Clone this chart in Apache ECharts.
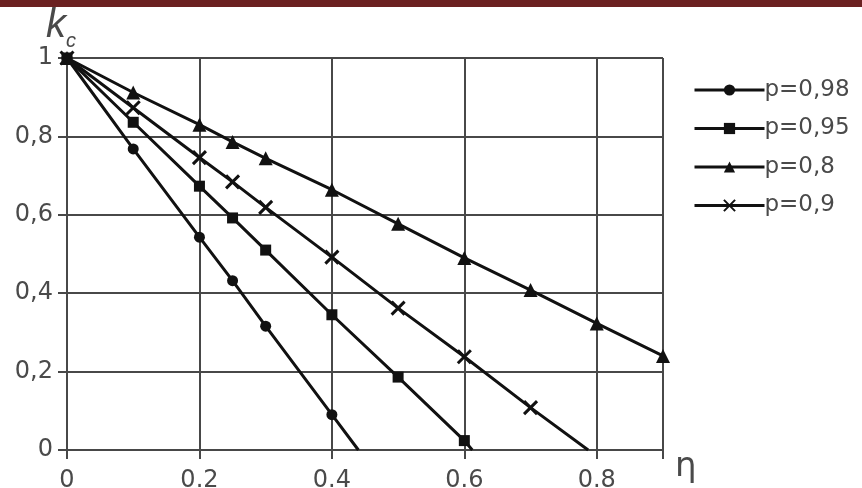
<!DOCTYPE html>
<html>
<head>
<meta charset="utf-8">
<script src="https://cdn.jsdelivr.net/npm/echarts@6/dist/echarts.min.js"></script>
<style>
  html, body { margin: 0; padding: 0; background: #fff; }
  #chart { width: 862px; height: 488px; }
</style>
</head>
<body>
<div id="chart"></div>
<script>
// series names (legend order)
const seriesNames = ['p=0,98', 'p=0,95', 'p=0,8', 'p=0,9'];
const seriesSymbols = ['circle', 'rect', 'triangle', 'path://M0,0L10,10M10,0L0,10'];

// marked points, eta / k_c
const etaP98 = [0, 0.1, 0.2, 0.25, 0.3, 0.4];
const kP98 = [1, 0.768, 0.543, 0.432, 0.316, 0.09];
const etaP95 = [0, 0.1, 0.2, 0.25, 0.3, 0.4, 0.5, 0.6];
const kP95 = [1, 0.836, 0.673, 0.592, 0.51, 0.345, 0.186, 0.024];
const etaP80 = [0, 0.1, 0.2, 0.25, 0.3, 0.4, 0.5, 0.6, 0.7, 0.8, 0.9];
const kP80 = [1, 0.912, 0.83, 0.786, 0.744, 0.664, 0.577, 0.49, 0.408, 0.323, 0.24];
const etaP90 = [0, 0.1, 0.2, 0.25, 0.3, 0.4, 0.5, 0.6, 0.7];
const kP90 = [1, 0.873, 0.746, 0.684, 0.619, 0.492, 0.362, 0.238, 0.108];

// where each line meets k_c = 0 (no marker); null = line stops at last marker
const lineEndEta = [0.44, 0.612, null, 0.787];

// tick labels
const xTickValues = [0, 0.2, 0.4, 0.6, 0.8];
const xTickLabels = ['0', '0.2', '0.4', '0.6', '0.8'];
const yTickValues = [0, 0.2, 0.4, 0.6, 0.8, 1];
const yTickLabels = ['0', '0,2', '0,4', '0,6', '0,8', '1'];

const etaAll = [etaP98, etaP95, etaP80, etaP90];
const kAll = [kP98, kP95, kP80, kP90];

function tickText(v, values, labels) {
  for (let i = 0; i < values.length; i++) {
    if (Math.abs(v - values[i]) < 1e-6) return labels[i];
  }
  return '';
}

const ink = '#111';
const gridColor = '#484848';
const textColor = '#4a4a4a';
const font = 'DejaVu Sans';
const symbolSizes = [11, 11, 14, 13];

const series = seriesNames.map((name, i) => {
  const data = etaAll[i].map((e, j) => [e, kAll[i][j]]);
  if (lineEndEta[i] !== null) {
    data.push({ value: [lineEndEta[i], 0], symbol: 'none' });
  }
  const isCross = i === 3;
  return {
    name: name,
    type: 'line',
    data: data,
    symbol: seriesSymbols[i],
    symbolSize: symbolSizes[i],
    showAllSymbol: true,
    lineStyle: { color: ink, width: 3 },
    itemStyle: isCross
      ? { color: ink, borderColor: ink, borderWidth: 3 }
      : { color: ink, borderWidth: 0 },
    emphasis: { disabled: true },
    z: 3
  };
});

const chart = echarts.init(document.getElementById('chart'));
chart.setOption({
  animation: false,
  backgroundColor: '#fff',
  graphic: [
    { type: 'rect', left: 0, top: 0, z: 100, shape: { width: 862, height: 7 }, style: { fill: '#6b2121' } },
    {
      // y axis title k_c
      type: 'text',
      left: 46,
      top: 6,
      style: {
        text: '{k|k}{c|c}',
        rich: {
          k: { fontSize: 40, fontStyle: 'italic', fontFamily: 'Liberation Sans', fill: textColor },
          c: { fontSize: 20, fontStyle: 'italic', fontFamily: 'Liberation Sans', fill: textColor, verticalAlign: 'bottom', padding: [0, 0, -5, 0] }
        }
      }
    }
  ],
  grid: { left: 67, right: 199, top: 58, bottom: 38, containLabel: false, outerBoundsMode: 'none' },
  legend: {
    orient: 'vertical',
    left: 688,
    top: 73,
    itemWidth: 70,
    itemHeight: 14,
    itemGap: 14.5,
    data: seriesNames,
    lineStyle: { width: 3 },
    textStyle: { color: textColor, fontSize: 23, fontFamily: font, lineHeight: 24, padding: [0, 0, 0, -5] }
  },
  xAxis: {
    type: 'value',
    min: 0,
    max: 0.9,
    interval: 0.2,
    name: 'η',
    nameLocation: 'end',
    nameGap: 12,
    nameTextStyle: { color: textColor, fontSize: 34, fontFamily: font, align: 'left', verticalAlign: 'top', padding: [0, 0, 0, 0] },
    axisLine: { show: true, lineStyle: { color: gridColor, width: 2 } },
    axisTick: { show: true, length: 9, lineStyle: { color: gridColor, width: 2 } },
    axisLabel: {
      margin: 19,
      color: textColor,
      fontSize: 24,
      fontFamily: font,
      showMaxLabel: true,
      formatter: v => tickText(v, xTickValues, xTickLabels)
    },
    splitLine: { show: true, lineStyle: { color: gridColor, width: 2 } }
  },
  yAxis: {
    type: 'value',
    min: 0,
    max: 1,
    interval: 0.2,
    axisLine: { show: true, lineStyle: { color: gridColor, width: 2 } },
    axisTick: { show: true, length: 9, lineStyle: { color: gridColor, width: 2 } },
    axisLabel: {
      margin: 14,
      color: textColor,
      fontSize: 24,
      fontFamily: font,
      formatter: v => tickText(v, yTickValues, yTickLabels)
    },
    splitLine: { show: true, lineStyle: { color: gridColor, width: 2 } }
  },
  series: series
});
</script>
</body>
</html>
